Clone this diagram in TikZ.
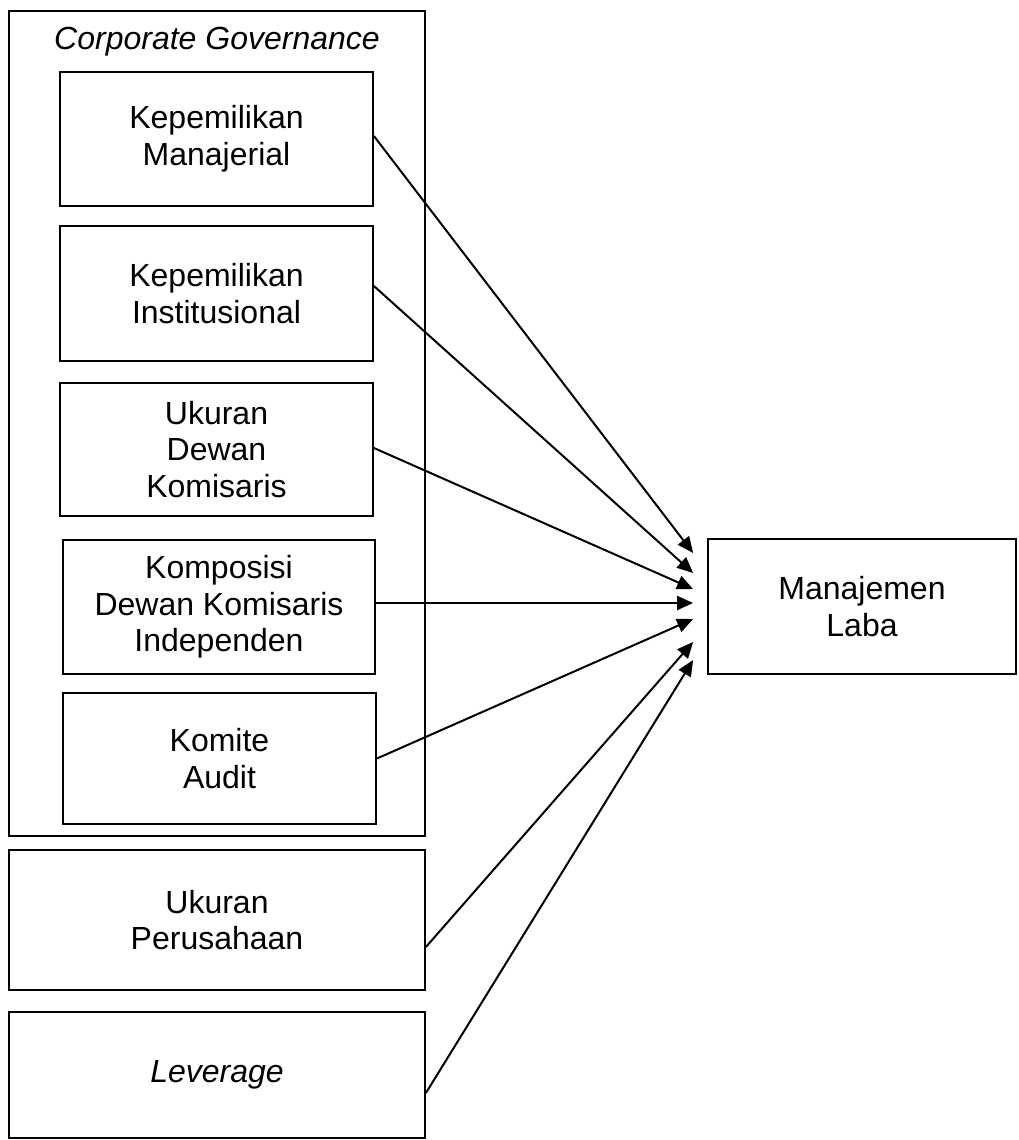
\documentclass[tikz,border=0pt]{standalone}
\usepackage{fontspec}
\setmainfont{Liberation Sans}
\usetikzlibrary{arrows.meta}
\tikzstyle{var}=[rectangle, draw=black, line width=1.8pt, align=center, minimum width=313pt, minimum height=134pt]
\tikzstyle{wide}=[var, minimum width=416pt]
\tikzset{>={Triangle[length=16pt,width=14pt]}}

\begin{document}
\begin{tikzpicture}[x=1pt, y=-1pt, font=\fontsize{32}{36.7}\selectfont]
        \useasboundingbox (0,0) rectangle (1018,1140);

        % Corporate governance frame
        \node at (217, 423.5) [var, minimum width=416pt, minimum height=825pt] (cg) {};
        \node at (217, 42) (cg_title) {\itshape Corporate Governance};

        % Independent variables
        \node at (216.5, 139) [var] (km) {Kepemilikan\\Manajerial};
        \node at (216.5, 293.5) [var, minimum height=135pt] (ki) {Kepemilikan\\Institusional};
        \node at (216.5, 449.5) [var, minimum height=133pt] (udk) {Ukuran\\Dewan\\Komisaris};
        \node at (219, 607) [var, minimum width=312pt] (kdki) {Komposisi\\Dewan Komisaris\\Independen};
        \node at (219.5, 758.5) [var, minimum height=131pt] (ka) {Komite\\Audit};
        \node at (217, 920) [wide, minimum height=140pt] (up) {Ukuran\\Perusahaan};
        \node at (217, 1075) [wide, minimum height=126pt] (lev) {\itshape Leverage};

        % Dependent variable
        \node at (862, 606.5) [var, minimum width=308pt, minimum height=135pt] (ml) {Manajemen\\Laba};

        % Paths
        \foreach \src/\sy/\dy in {km/3/53.5, ki/7.5/33.5, udk/1.5/17.5, kdki/4/3.5, ka/0/-12.5, up/-27/-35.5, lev/-18/-53.5}
          \draw [->, line width=2pt] ([yshift=\sy pt]\src.east) to ([xshift=-14pt, yshift=\dy pt]ml.west);
      \end{tikzpicture}
\end{document}
